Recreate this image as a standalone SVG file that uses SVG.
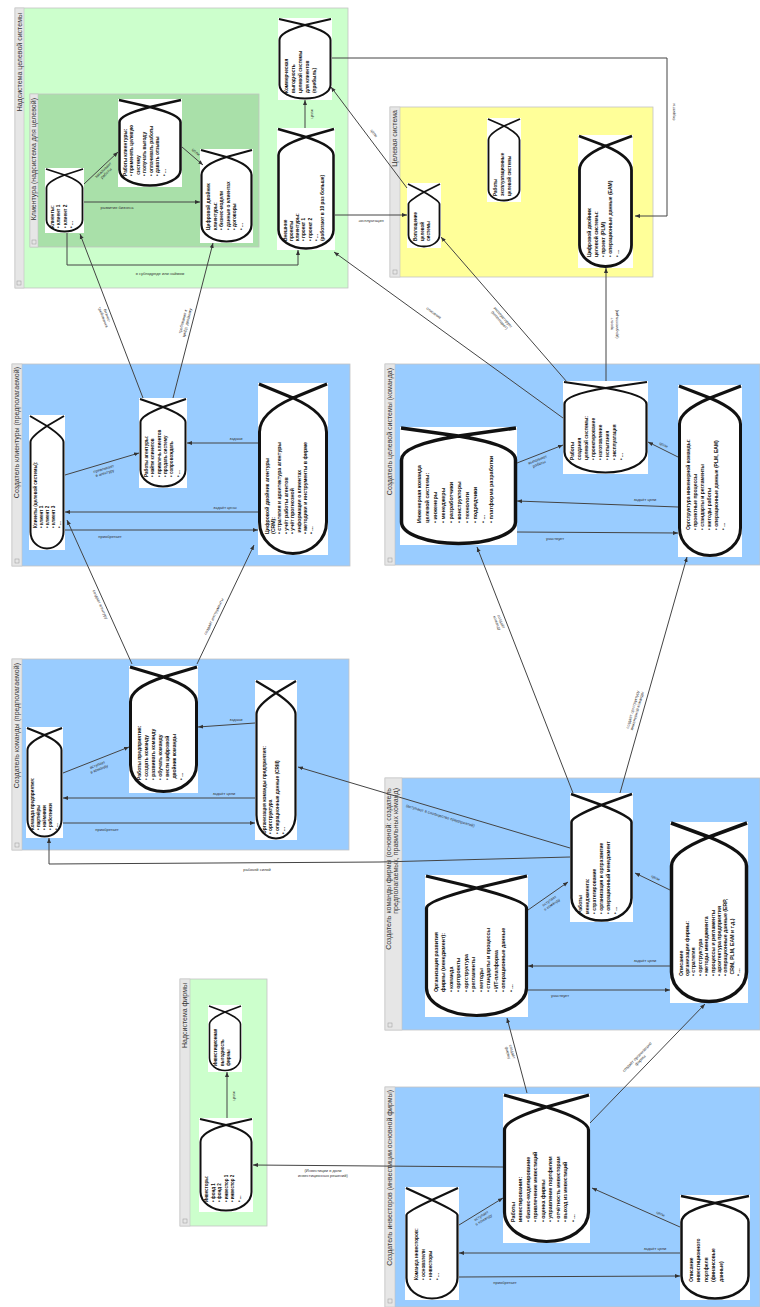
<svg xmlns="http://www.w3.org/2000/svg" width="760" height="1307" viewBox="0 0 760 1307">
<style>
.cg{fill:#ccffcc;stroke:#c4c4c4;stroke-width:.8}
.cg2{fill:#a9e0a9;stroke:#c4c4c4;stroke-width:.8}
.cy{fill:#ffff99;stroke:#c4c4c4;stroke-width:.8}
.cb{fill:#99ccff;stroke:#c4c4c4;stroke-width:.8}
.st{fill:#e6e6e6;stroke:#c4c4c4;stroke-width:.6}
.sq{fill:none;stroke:#999;stroke-width:.5}
.tt{font-family:"Liberation Sans","DejaVu Sans",sans-serif;font-size:7px;fill:#333;text-anchor:end}
.bg{fill:#fff}
.sh{fill:#fff;stroke:#111;stroke-linejoin:round}
.nt{font-family:"Liberation Sans","DejaVu Sans",sans-serif;font-weight:bold;fill:#111}
.cn{fill:none;stroke:#444;stroke-width:1;marker-end:url(#arr)}
.lb{font-family:"Liberation Sans","DejaVu Sans",sans-serif;font-size:4px;fill:#333;text-anchor:middle}
</style>
<defs>
<marker id="arr" viewBox="0 0 10 10" refX="10" refY="5" markerWidth="5" markerHeight="5" markerUnits="userSpaceOnUse" orient="auto"><path d="M0,1 L10,5 L0,9 z" fill="#333"/></marker>
</defs>
<rect width="760" height="1307" fill="#fff"/>

<g id="containers">
<g id="c-supersys"><rect class="cg" x="15" y="8" width="333" height="280"/><rect class="st" x="15" y="8" width="9" height="280"/><rect class="sq" x="17" y="281" width="4" height="4"/><text class="tt" transform="translate(22,13) rotate(-90)">Надсистема целевой системы</text></g>
<g id="c-clients"><rect class="cg2" x="30" y="94" width="229" height="153"/><rect class="st" x="30" y="94" width="8" height="153"/><rect class="sq" x="32" y="240" width="4" height="4"/><text class="tt" transform="translate(36,98) rotate(-90)">Клиентура (надсистема для целевой)</text></g>
<g id="c-target"><rect class="cy" x="390" y="107" width="263" height="170"/><rect class="st" x="390" y="107" width="10" height="170"/><rect class="sq" x="393" y="270" width="4" height="4"/><text class="tt" transform="translate(397,110) rotate(-90)">Целевая система</text></g>
<g id="c-agency"><rect class="cb" x="12" y="364" width="338" height="202"/><rect class="st" x="12" y="364" width="10" height="202"/><rect class="sq" x="15" y="559" width="4" height="4"/><text class="tt" transform="translate(19,367) rotate(-90)">Создатель клиентуры (предполагаемой)</text></g>
<g id="c-enterprise"><rect class="cb" x="12" y="659" width="337" height="191"/><rect class="st" x="12" y="659" width="10" height="191"/><rect class="sq" x="15" y="843" width="4" height="4"/><text class="tt" transform="translate(19,663) rotate(-90)">Создатель команды (предполагаемой)</text></g>
<g id="c-team"><rect class="cb" x="385" y="364" width="375" height="201"/><rect class="st" x="385" y="364" width="10" height="201"/><rect class="sq" x="388" y="558" width="4" height="4"/><text class="tt" transform="translate(392,368) rotate(-90)">Создатель целевой системы (команда)</text></g>
<g id="c-firm"><rect class="cb" x="385" y="778" width="375" height="252"/><rect class="st" x="385" y="778" width="17" height="252"/><rect class="sq" x="388" y="1023" width="4" height="4"/><text class="tt" transform="translate(391,788) rotate(-90)"><tspan x="0">Создатель команды фирмы (основной: создатель</tspan><tspan x="0" dy="7">предполагаемых, правильных команд)</tspan></text></g>
<g id="c-investors"><rect class="cb" x="385" y="1087" width="375" height="220"/><rect class="st" x="385" y="1087" width="10" height="220"/><rect class="sq" x="388" y="1299" width="4" height="4"/><text class="tt" transform="translate(392,1090) rotate(-90)">Создатель инвесторов (инвестиции основной фирмы)</text></g>
<g id="c-firmsuper"><rect class="cg" x="180" y="979" width="87" height="247"/><rect class="st" x="180" y="979" width="10" height="247"/><rect class="sq" x="183" y="1219" width="4" height="4"/><text class="tt" transform="translate(187,983) rotate(-90)">Надсистема фирмы</text></g>
</g>

<g id="nodes">
<g id="n-A1"><rect class="bg" x="45" y="168" width="39" height="65"/><path class="sh" stroke-width="1.8" d="M64.5,175 Q46.5,182 46.5,188 L46.5,220 A18,11.5 0 0 0 64.5,231.5 A18,11.5 0 0 0 82.5,220 L82.5,188 Q82.5,182 64.5,175 Z M46,169 L64.5,175 L83,169"/><text class="nt" font-size="4.8" transform="translate(53.5,228) rotate(-90)"><tspan x="0">Клиенты:</tspan><tspan x="0" dy="6.5">• клиент 1</tspan><tspan x="0" dy="6.5">• клиент 2</tspan><tspan x="0" dy="6.5">• ...</tspan></text></g>
<g id="n-A2"><rect class="bg" x="118" y="99" width="64" height="88"/><path class="sh" stroke-width="2.5" d="M150,107 Q119.5,115 119.5,122 L119.5,170 A30.5,15.5 0 0 0 150,185.5 A30.5,15.5 0 0 0 180.5,170 L180.5,122 Q180.5,115 150,107 Z M119,100 L150,107 L181,100"/><text class="nt" font-size="4.8" transform="translate(126.5,176) rotate(-90)"><tspan x="0">Работы клиентуры:</tspan><tspan x="0" dy="6.5">• применять целевую</tspan><tspan x="0" dy="6.5">  систему</tspan><tspan x="0" dy="6.5">• получать выгоду</tspan><tspan x="0" dy="6.5">• оплачивать работы</tspan><tspan x="0" dy="6.5">• давать отзывы</tspan><tspan x="0" dy="6.5">• ...</tspan></text></g>
<g id="n-A3"><rect class="bg" x="200" y="149" width="53" height="94"/><path class="sh" stroke-width="2.2" d="M226.5,157 Q201.5,165 201.5,175 L201.5,225 A25,16.5 0 0 0 226.5,241.5 A25,16.5 0 0 0 251.5,225 L251.5,175 Q251.5,165 226.5,157 Z M201,150 L226.5,157 L252,150"/><text class="nt" font-size="4.8" transform="translate(210,230) rotate(-90)"><tspan x="0">Цифровой двойник</tspan><tspan x="0" dy="6.5">клиентуры:</tspan><tspan x="0" dy="6.5">• бизнес-модели</tspan><tspan x="0" dy="6.5">• данные о клиентах</tspan><tspan x="0" dy="6.5">• договоры</tspan><tspan x="0" dy="6.5">• ...</tspan></text></g>
<g id="n-A4"><rect class="bg" x="278" y="18" width="54" height="82"/><path class="sh" stroke-width="2" d="M305,25 Q279.5,32 279.5,40 L279.5,85 A25.5,13.5 0 0 0 305,98.5 A25.5,13.5 0 0 0 330.5,85 L330.5,40 Q330.5,32 305,25 Z M279,19 L305,25 L331,19"/><text class="nt" font-size="4.8" transform="translate(287.5,93) rotate(-90)"><tspan x="0">Коммерческая</tspan><tspan x="0" dy="7">выгодность</tspan><tspan x="0" dy="7">целевой системы</tspan><tspan x="0" dy="7">для клиентов</tspan><tspan x="0" dy="7">(прибыль)</tspan></text></g>
<g id="n-A5"><rect class="bg" x="277" y="128" width="58" height="122"/><path class="sh" stroke-width="2.5" d="M306,137 Q278.5,146 278.5,155 L278.5,230 A27.5,18.5 0 0 0 306,248.5 A27.5,18.5 0 0 0 333.5,230 L333.5,155 Q333.5,146 306,137 Z M278,129 L306,137 L334,129"/><text class="nt" font-size="4.8" transform="translate(286.5,241) rotate(-90)"><tspan x="0">Внешние</tspan><tspan x="0" dy="6.3">проекты</tspan><tspan x="0" dy="6.3">клиентуры:</tspan><tspan x="0" dy="6.3">• проект 1</tspan><tspan x="0" dy="6.3">• проект 2</tspan><tspan x="0" dy="6.3">• ...</tspan><tspan x="0" dy="6.3">(работают в 10 раз больше)</tspan></text></g>
<g id="n-Y1"><rect class="bg" x="407" y="183" width="34" height="65"/><path class="sh" stroke-width="1.8" d="M424,192 Q408.5,201 408.5,204 L408.5,235 A15.5,11.5 0 0 0 424,246.5 A15.5,11.5 0 0 0 439.5,235 L439.5,204 Q439.5,201 424,192 Z M408,184 L424,192 L440,184"/><text class="nt" font-size="4.6" transform="translate(417,241) rotate(-90)"><tspan x="0">Воплощение</tspan><tspan x="0" dy="6.5">целевой</tspan><tspan x="0" dy="6.5">системы</tspan></text></g>
<g id="n-Y2"><rect class="bg" x="487" y="118" width="34" height="84"/><path class="sh" stroke-width="1.8" d="M504,126 Q488.5,134 488.5,140 L488.5,190 A15.5,10.5 0 0 0 504,200.5 A15.5,10.5 0 0 0 519.5,190 L519.5,140 Q519.5,134 504,126 Z M488,119 L504,126 L520,119"/><text class="nt" font-size="4.6" transform="translate(497,196) rotate(-90)"><tspan x="0">Работы</tspan><tspan x="0" dy="7">эксплуатационные</tspan><tspan x="0" dy="7">целевой системы</tspan></text></g>
<g id="n-Y3"><rect class="bg" x="578" y="135" width="55" height="133"/><path class="sh" stroke-width="2.8" d="M605.5,146 Q579.5,157 579.5,170 L579.5,245 A26,21.5 0 0 0 605.5,266.5 A26,21.5 0 0 0 631.5,245 L631.5,170 Q631.5,157 605.5,146 Z M579,136 L605.5,146 L632,136"/><text class="nt" font-size="5" transform="translate(590.5,257) rotate(-90)"><tspan x="0">Цифровой двойник</tspan><tspan x="0" dy="7">целевой системы:</tspan><tspan x="0" dy="7">• проект (PLM)</tspan><tspan x="0" dy="7">• операционные данные (EAM)</tspan><tspan x="0" dy="7">• ...</tspan></text></g>
<g id="n-B1"><rect class="bg" x="29" y="415" width="36" height="135"/><path class="sh" stroke-width="2" d="M47,426 Q30.5,437 30.5,442 L30.5,532 A16.5,16.5 0 0 0 47,548.5 A16.5,16.5 0 0 0 63.5,532 L63.5,442 Q63.5,437 47,426 Z M30,416 L47,426 L64,416"/><text class="nt" font-size="4.6" transform="translate(37,528) rotate(-90)"><tspan x="0">Клиенты (целевой системы):</tspan><tspan x="0" dy="6">• клиент 1</tspan><tspan x="0" dy="6">• клиент 2</tspan><tspan x="0" dy="6">• клиент 3</tspan><tspan x="0" dy="6">• ...</tspan></text></g>
<g id="n-B2"><rect class="bg" x="139" y="398" width="48" height="90"/><path class="sh" stroke-width="2" d="M163,407 Q140.5,416 140.5,422 L140.5,470 A22.5,16.5 0 0 0 163,486.5 A22.5,16.5 0 0 0 185.5,470 L185.5,422 Q185.5,416 163,407 Z M140,399 L163,407 L186,399"/><text class="nt" font-size="4.6" transform="translate(148,477) rotate(-90)"><tspan x="0">Работы агентуры:</tspan><tspan x="0" dy="6.3">• найти клиентов</tspan><tspan x="0" dy="6.3">• привлечь клиентов</tspan><tspan x="0" dy="6.3">• продать систему</tspan><tspan x="0" dy="6.3">• сопровождать</tspan><tspan x="0" dy="6.3">• ...</tspan></text></g>
<g id="n-B3"><rect class="bg" x="258" y="383" width="70" height="172"/><path class="sh" stroke-width="3" d="M293,398 Q259.5,413 259.5,432 L259.5,522 A33.5,31.5 0 0 0 293,553.5 A33.5,31.5 0 0 0 326.5,522 L326.5,432 Q326.5,413 293,398 Z M259,384 L293,398 L327,384"/><text class="nt" font-size="5.2" transform="translate(268.5,534) rotate(-90)"><tspan x="0">Цифровой двойник агентуры</tspan><tspan x="0" dy="6.4">(CRM):</tspan><tspan x="0" dy="6.4">• стратегия и архитектура агентуры</tspan><tspan x="0" dy="6.4">• учёт работы агентов</tspan><tspan x="0" dy="6.4">• учёт прогнозной</tspan><tspan x="0" dy="6.4">  информации о клиентах</tspan><tspan x="0" dy="6.4">• методики и инструменты в фирме</tspan><tspan x="0" dy="6.4">• ...</tspan></text></g>
<g id="n-C1"><rect class="bg" x="26" y="727" width="37" height="111"/><path class="sh" stroke-width="2" d="M44.5,735 Q27.5,743 27.5,750 L27.5,820 A17,16.5 0 0 0 44.5,836.5 A17,16.5 0 0 0 61.5,820 L61.5,750 Q61.5,743 44.5,735 Z M27,728 L44.5,735 L62,728"/><text class="nt" font-size="4.6" transform="translate(34,830) rotate(-90)"><tspan x="0">Команда предприятия:</tspan><tspan x="0" dy="6">• партнёры</tspan><tspan x="0" dy="6">• наёмники</tspan><tspan x="0" dy="6">• работники</tspan><tspan x="0" dy="6">• ...</tspan></text></g>
<g id="n-C2"><rect class="bg" x="129" y="666" width="69" height="127"/><path class="sh" stroke-width="3" d="M163.5,677 Q130.5,688 130.5,702 L130.5,765 A33,26.5 0 0 0 163.5,791.5 A33,26.5 0 0 0 196.5,765 L196.5,702 Q196.5,688 163.5,677 Z M130,667 L163.5,677 L197,667"/><text class="nt" font-size="5" transform="translate(140.5,780) rotate(-90)"><tspan x="0">Работы предприятия:</tspan><tspan x="0" dy="7">• создать команду</tspan><tspan x="0" dy="7">• развивать команду</tspan><tspan x="0" dy="7">• обучать команду</tspan><tspan x="0" dy="7">• вести цифровой</tspan><tspan x="0" dy="7">  двойник команды</tspan><tspan x="0" dy="7">• ...</tspan></text></g>
<g id="n-C3"><rect class="bg" x="255" y="680" width="42" height="160"/><path class="sh" stroke-width="2.2" d="M276,693 Q256.5,706 256.5,714 L256.5,815 A19.5,23.5 0 0 0 276,838.5 A19.5,23.5 0 0 0 295.5,815 L295.5,714 Q295.5,706 276,693 Z M256,681 L276,693 L296,681"/><text class="nt" font-size="4.8" transform="translate(265.5,834) rotate(-90)"><tspan x="0">Организация команды предприятия:</tspan><tspan x="0" dy="6.5">• оргструктура</tspan><tspan x="0" dy="6.5">• операционные данные (CRM)</tspan><tspan x="0" dy="6.5">• ...</tspan></text></g>
<g id="n-R1"><rect class="bg" x="563" y="381" width="85" height="93"/><path class="sh" stroke-width="2.2" d="M605.5,388 Q564.5,395 564.5,404 L564.5,452 A41,20.5 0 0 0 605.5,472.5 A41,20.5 0 0 0 646.5,452 L646.5,404 Q646.5,395 605.5,388 Z M564,382 L605.5,388 L647,382"/><text class="nt" font-size="4.8" transform="translate(573.5,460) rotate(-90)"><tspan x="0">Работы</tspan><tspan x="0" dy="7">создания</tspan><tspan x="0" dy="7">целевой системы:</tspan><tspan x="0" dy="7">• проектирование</tspan><tspan x="0" dy="7">• изготовление</tspan><tspan x="0" dy="7">• испытания</tspan><tspan x="0" dy="7">• эксплуатация</tspan><tspan x="0" dy="7">• ...</tspan></text></g>
<g id="n-R2"><rect class="bg" x="400" y="427" width="117" height="118"/><path class="sh" stroke-width="3.5" d="M458.5,436 Q401.5,445 401.5,460 L401.5,522 A57,21.5 0 0 0 458.5,543.5 A57,21.5 0 0 0 515.5,522 L515.5,460 Q515.5,445 458.5,436 Z M401,428 L458.5,436 L516,428"/><text class="nt" font-size="5.5" transform="translate(420.5,523) rotate(-90)"><tspan x="0">Инженерная команда</tspan><tspan x="0" dy="8">целевой системы:</tspan><tspan x="0" dy="8">• инженеры</tspan><tspan x="0" dy="8">• менеджеры</tspan><tspan x="0" dy="8">• разработчики</tspan><tspan x="0" dy="8">• конструкторы</tspan><tspan x="0" dy="8">• технологи</tspan><tspan x="0" dy="8">• подрядчики</tspan><tspan x="0" dy="8">• ...</tspan><tspan x="0" dy="8">• платформа разработки</tspan></text></g>
<g id="n-R3"><rect class="bg" x="678" y="385" width="64" height="172"/><path class="sh" stroke-width="3" d="M710,398 Q679.5,411 679.5,424 L679.5,528 A30.5,27.5 0 0 0 710,555.5 A30.5,27.5 0 0 0 740.5,528 L740.5,424 Q740.5,411 710,398 Z M679,386 L710,398 L741,386"/><text class="nt" font-size="5" transform="translate(689.5,530) rotate(-90)"><tspan x="0">Оргструктура инженерной команды:</tspan><tspan x="0" dy="7">• проектные процессы</tspan><tspan x="0" dy="7">• стандарты и регламенты</tspan><tspan x="0" dy="7">• методы работы</tspan><tspan x="0" dy="7">• операционные данные (PLM, EAM)</tspan><tspan x="0" dy="7">• ...</tspan></text></g>
<g id="n-E1"><rect class="bg" x="570" y="793" width="63" height="129"/><path class="sh" stroke-width="2.5" d="M601.5,805 Q571.5,817 571.5,822 L571.5,898 A30,22.5 0 0 0 601.5,920.5 A30,22.5 0 0 0 631.5,898 L631.5,822 Q631.5,817 601.5,805 Z M571,794 L601.5,805 L632,794"/><text class="nt" font-size="5" transform="translate(581.5,914) rotate(-90)"><tspan x="0">Работы</tspan><tspan x="0" dy="7">менеджмента:</tspan><tspan x="0" dy="7">• стратегирование</tspan><tspan x="0" dy="7">• организация и оргразвитие</tspan><tspan x="0" dy="7">• операционный менеджмент</tspan><tspan x="0" dy="7">• ...</tspan></text></g>
<g id="n-E2"><rect class="bg" x="425" y="875" width="103" height="142"/><path class="sh" stroke-width="3.2" d="M476.5,888 Q426.5,901 426.5,908 L426.5,988 A50,27.5 0 0 0 476.5,1015.5 A50,27.5 0 0 0 526.5,988 L526.5,908 Q526.5,901 476.5,888 Z M426,876 L476.5,888 L527,876"/><text class="nt" font-size="5.3" transform="translate(437.5,992) rotate(-90)"><tspan x="0">Организация развития</tspan><tspan x="0" dy="7.5">фирмы (менеджмент):</tspan><tspan x="0" dy="7.5">• команда</tspan><tspan x="0" dy="7.5">• оргпроекты</tspan><tspan x="0" dy="7.5">• оргструктура</tspan><tspan x="0" dy="7.5">• регламенты</tspan><tspan x="0" dy="7.5">• методы</tspan><tspan x="0" dy="7.5">• стандарты и процессы</tspan><tspan x="0" dy="7.5">• ИТ-платформа</tspan><tspan x="0" dy="7.5">• операционные данные</tspan><tspan x="0" dy="7.5">• ...</tspan></text></g>
<g id="n-E3"><rect class="bg" x="670" y="822" width="78" height="181"/><path class="sh" stroke-width="3.5" d="M709,837 Q671.5,852 671.5,866 L671.5,972 A37.5,29.5 0 0 0 709,1001.5 A37.5,29.5 0 0 0 746.5,972 L746.5,866 Q746.5,852 709,837 Z M671,823 L709,837 L747,823"/><text class="nt" font-size="5.2" transform="translate(682.5,976) rotate(-90)"><tspan x="0">Описание</tspan><tspan x="0" dy="6.4">организации фирмы:</tspan><tspan x="0" dy="6.4">• стратегия</tspan><tspan x="0" dy="6.4">• оргструктура</tspan><tspan x="0" dy="6.4">• методы менеджмента</tspan><tspan x="0" dy="6.4">• процессы и регламенты</tspan><tspan x="0" dy="6.4">• архитектура предприятия</tspan><tspan x="0" dy="6.4">• операционные данные (ERP,</tspan><tspan x="0" dy="6.4">  CRM, PLM, EAM и т.д.)</tspan><tspan x="0" dy="6.4">• ...</tspan></text></g>
<g id="n-F1"><rect class="bg" x="405" y="1187" width="54" height="113"/><path class="sh" stroke-width="2.2" d="M432,1200 Q406.5,1212 406.5,1215 L406.5,1278 A25.5,20.5 0 0 0 432,1298.5 A25.5,20.5 0 0 0 457.5,1278 L457.5,1215 Q457.5,1212 432,1200 Z M406,1188 L432,1200 L458,1188"/><text class="nt" font-size="4.8" transform="translate(417.5,1280) rotate(-90)"><tspan x="0">Команда инвесторов:</tspan><tspan x="0" dy="7">• основатели</tspan><tspan x="0" dy="7">• инвесторы</tspan><tspan x="0" dy="7">• ...</tspan></text></g>
<g id="n-F2"><rect class="bg" x="503" y="1094" width="87" height="149"/><path class="sh" stroke-width="3.2" d="M546.5,1107 Q504.5,1120 504.5,1130 L504.5,1212 A42,29.5 0 0 0 546.5,1241.5 A42,29.5 0 0 0 588.5,1212 L588.5,1130 Q588.5,1120 546.5,1107 Z M504,1095 L546.5,1107 L589,1095"/><text class="nt" font-size="5.3" transform="translate(514.5,1222) rotate(-90)"><tspan x="0">Работы</tspan><tspan x="0" dy="7.5">инвестирования:</tspan><tspan x="0" dy="7.5">• бизнес-моделирование</tspan><tspan x="0" dy="7.5">• привлечение инвестиций</tspan><tspan x="0" dy="7.5">• оценка фирмы</tspan><tspan x="0" dy="7.5">• управление портфелем</tspan><tspan x="0" dy="7.5">• отчётность инвесторам</tspan><tspan x="0" dy="7.5">• выход из инвестиций</tspan><tspan x="0" dy="7.5">• ...</tspan></text></g>
<g id="n-F3"><rect class="bg" x="680" y="1195" width="70" height="105"/><path class="sh" stroke-width="2.5" d="M715,1203 Q681.5,1211 681.5,1222 L681.5,1276 A33.5,22.5 0 0 0 715,1298.5 A33.5,22.5 0 0 0 748.5,1276 L748.5,1222 Q748.5,1211 715,1203 Z M681,1196 L715,1203 L749,1196"/><text class="nt" font-size="5" transform="translate(692.5,1282) rotate(-90)"><tspan x="0">Описание</tspan><tspan x="0" dy="7.5">инвестиционного</tspan><tspan x="0" dy="7.5">портфеля</tspan><tspan x="0" dy="7.5">(финансовые</tspan><tspan x="0" dy="7.5">данные)</tspan></text></g>
<g id="n-G1"><rect class="bg" x="208" y="1005" width="34" height="67"/><path class="sh" stroke-width="1.6" d="M225,1012 Q209.5,1019 209.5,1024 L209.5,1058 A15.5,12.5 0 0 0 225,1070.5 A15.5,12.5 0 0 0 240.5,1058 L240.5,1024 Q240.5,1019 225,1012 Z M209,1006 L225,1012 L241,1006"/><text class="nt" font-size="4.5" transform="translate(217,1066) rotate(-90)"><tspan x="0">Инвестиционная</tspan><tspan x="0" dy="6.5">выгодность</tspan><tspan x="0" dy="6.5">фирмы</tspan></text></g>
<g id="n-G2"><rect class="bg" x="199" y="1118" width="54" height="94"/><path class="sh" stroke-width="2" d="M226,1125 Q200.5,1132 200.5,1142 L200.5,1192 A25.5,18.5 0 0 0 226,1210.5 A25.5,18.5 0 0 0 251.5,1192 L251.5,1142 Q251.5,1132 226,1125 Z M200,1119 L226,1125 L252,1119"/><text class="nt" font-size="4.5" transform="translate(208,1202) rotate(-90)"><tspan x="0">Инвесторы:</tspan><tspan x="0" dy="6.5">• фонд 1</tspan><tspan x="0" dy="6.5">• фонд 2</tspan><tspan x="0" dy="6.5">• инвестор 1</tspan><tspan x="0" dy="6.5">• инвестор 2</tspan><tspan x="0" dy="6.5">• ...</tspan></text></g>
</g>

<g id="connectors">
<path class="cn" d="M84,184 L118,152"/>
<path class="cn" d="M182,147 L203,165"/>
<path class="cn" d="M84,202 L200,202"/>
<path class="cn" d="M67,233 L67,265 L298,265 L298,250"/>
<path class="cn" d="M305,128 L305,100"/>
<path class="cn" d="M332,58 L667,58 L667,216 L635,216"/>
<path class="cn" d="M335,215 L407,215"/>
<path class="cn" d="M407,188 L331,87"/>
<path class="cn" d="M563,418 L334,252"/>
<path class="cn" d="M567,382 L441,237"/>
<path class="cn" d="M606,381 L606,268"/>
<path class="cn" d="M143,398 L80,234"/>
<path class="cn" d="M173,398 L213,243"/>
<path class="cn" d="M65,475 L139,453"/>
<path class="cn" d="M258,443 L187,443"/>
<path class="cn" d="M258,512 L65,512"/>
<path class="cn" d="M65,530 L258,530"/>
<path class="cn" d="M132,664 L67,520"/>
<path class="cn" d="M197,664 L254,545"/>
<path class="cn" d="M63,773 L129,747"/>
<path class="cn" d="M255,723 L198,727"/>
<path class="cn" d="M255,798 L63,798"/>
<path class="cn" d="M63,823 L255,823"/>
<path class="cn" d="M570,857 L380,862 L49,864 L49,838"/>
<path class="cn" d="M570,848 L298,767"/>
<path class="cn" d="M517,463 L563,445"/>
<path class="cn" d="M678,457 L648,442"/>
<path class="cn" d="M678,507 L517,501"/>
<path class="cn" d="M517,532 L678,533"/>
<path class="cn" d="M573,793 L477,547"/>
<path class="cn" d="M620,793 L687,557"/>
<path class="cn" d="M528,910 L568,882"/>
<path class="cn" d="M670,890 L635,873"/>
<path class="cn" d="M670,966 L528,966"/>
<path class="cn" d="M528,990 L670,990"/>
<path class="cn" d="M527,1093 L507,1018"/>
<path class="cn" d="M590,1123 L705,1004"/>
<path class="cn" d="M459,1225 L503,1198"/>
<path class="cn" d="M680,1227 L592,1188"/>
<path class="cn" d="M680,1253 L459,1253"/>
<path class="cn" d="M459,1277 L680,1276"/>
<path class="cn" d="M503,1167 L253,1165"/>
<path class="cn" d="M227,1118 L227,1072"/>

<text class="lb" transform="translate(104,171) rotate(-43)"><tspan x="0">заказывает</tspan><tspan x="0" dy="4.5">работы</tspan></text>
<text class="lb" transform="translate(195,153) rotate(40.6)">цели</text>
<text class="lb" x="117" y="209">развитие бизнеса</text>
<text class="lb" x="160" y="275">в субподряде или наймом</text>
<text class="lb" transform="translate(313,114) rotate(-90)">цели</text>
<text class="lb" transform="translate(675,112) rotate(-90)">бюджеты</text>
<text class="lb" x="371" y="222">эксплуатация</text>
<text class="lb" transform="translate(373,134) rotate(53)">цели</text>
<text class="lb" transform="translate(433,314) rotate(36)">описание</text>
<text class="lb" transform="translate(502,318) rotate(49)"><tspan x="0">эксплуатирует</tspan><tspan x="0" dy="4.5">(воплощает)</tspan></text>
<text class="lb" transform="translate(613,324) rotate(-90)"><tspan x="0">проект</tspan><tspan x="0" dy="4.5">(документация)</tspan></text>
<text class="lb" transform="translate(106,316) rotate(69)"><tspan x="0">бизнес-</tspan><tspan x="0" dy="4.5">требования</tspan></text>
<text class="lb" transform="translate(184,322) rotate(-75.5)"><tspan x="0">требования к</tspan><tspan x="0" dy="4.5">цифр. двойнику</tspan></text>
<text class="lb" transform="translate(104,470) rotate(-16.6)"><tspan x="0">привлекает</tspan><tspan x="0" dy="4.5">в агентуру</tspan></text>
<text class="lb" x="236" y="440">задачи</text>
<text class="lb" x="225" y="509">задаёт цены</text>
<text class="lb" x="110" y="538">приобретает</text>
<text class="lb" transform="translate(99,605) rotate(65.7)">создаёт агентуру</text>
<text class="lb" transform="translate(215,617) rotate(-64.4)">создаёт инструменты</text>
<text class="lb" transform="translate(98,766) rotate(-21.5)"><tspan x="0">вступает</tspan><tspan x="0" dy="4.5">в команду</tspan></text>
<text class="lb" x="236" y="721">задачи</text>
<text class="lb" x="224" y="795">задаёт цели</text>
<text class="lb" x="107" y="831">приобретает</text>
<text class="lb" x="257" y="871">рабочей силой</text>
<text class="lb" transform="translate(440,817) rotate(16.6)">(вступают в сообщество предприятий)</text>
<text class="lb" transform="translate(538,461) rotate(-21)"><tspan x="0">выполняет</tspan><tspan x="0" dy="4.5">работы</tspan></text>
<text class="lb" transform="translate(663,446) rotate(26.6)">цели</text>
<text class="lb" x="645" y="501">задаёт цели</text>
<text class="lb" x="555" y="540">участвует</text>
<text class="lb" transform="translate(500,622) rotate(68.7)"><tspan x="0">создаёт</tspan><tspan x="0" dy="4.5">команду</tspan></text>
<text class="lb" transform="translate(634,710) rotate(-74)"><tspan x="0">создаёт оргструктуру</tspan><tspan x="0" dy="4.5">инженерной команды</tspan></text>
<text class="lb" transform="translate(550,902) rotate(-35)"><tspan x="0">вступает</tspan><tspan x="0" dy="4.5">в команду</tspan></text>
<text class="lb" transform="translate(655,879) rotate(26)">цели</text>
<text class="lb" x="645" y="962">задаёт цели</text>
<text class="lb" x="560" y="997">участвует</text>
<text class="lb" transform="translate(511,1052) rotate(75)"><tspan x="0">создаёт</tspan><tspan x="0" dy="4.5">фирму</tspan></text>
<text class="lb" transform="translate(638,1058) rotate(-46)"><tspan x="0">создаёт организацию</tspan><tspan x="0" dy="4.5">фирмы</tspan></text>
<text class="lb" transform="translate(482,1217) rotate(-31.5)"><tspan x="0">вступает</tspan><tspan x="0" dy="4.5">в команду</tspan></text>
<text class="lb" transform="translate(660,1215) rotate(24)">цели</text>
<text class="lb" x="655" y="1250">задаёт цели</text>
<text class="lb" x="505" y="1284">приобретает</text>
<text class="lb" x="323" y="1172"><tspan x="323">(Инвестиции в доли</tspan><tspan x="323" dy="4.5">инвестиционных решений)</tspan></text>
<text class="lb" transform="translate(235,1096) rotate(-90)">цели</text>
</g>
</svg>
